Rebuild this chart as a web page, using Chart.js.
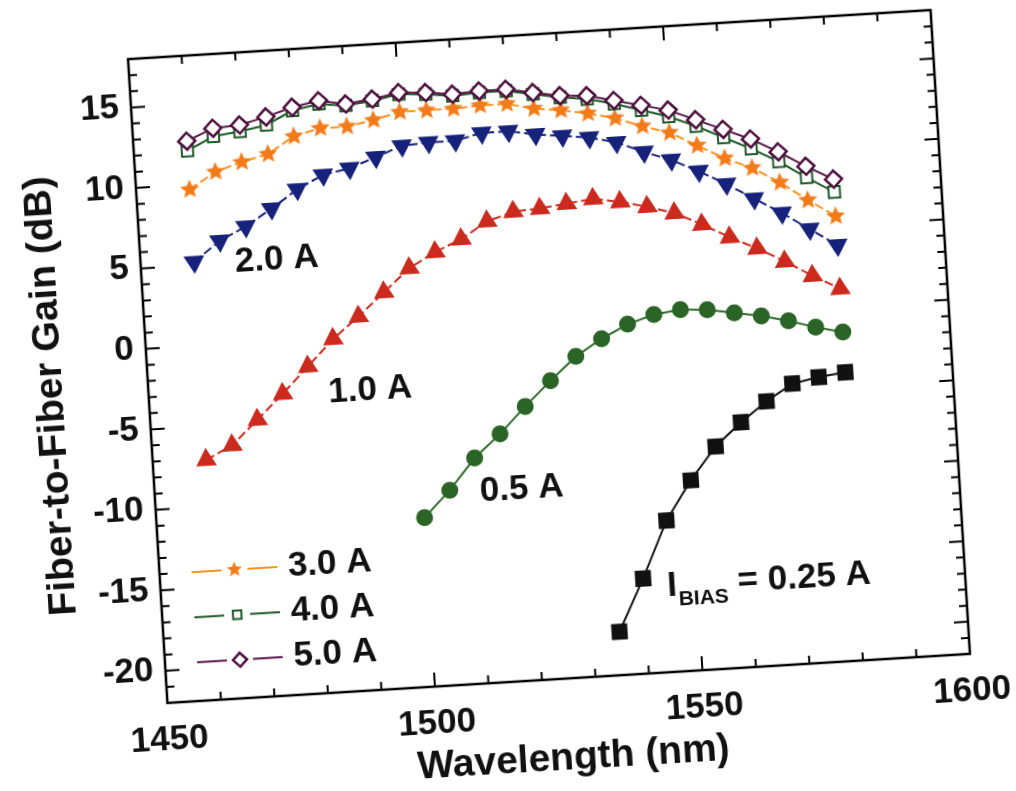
<!DOCTYPE html>
<html>
<head>
<meta charset="utf-8">
<script src="https://cdn.jsdelivr.net/npm/chart.js@4.4.1/dist/chart.umd.min.js"></script>
<style>
  html, body { margin: 0; padding: 0; background: #fff; overflow: hidden; }
  #wrap { position: relative; width: 1016px; height: 791px; }
  /* the scanned figure is tilted a little, so the canvas is too */
  #gain { position: absolute; left: 0; top: 0; transform-origin: 549px 356.5px; transform: rotate(-3.5deg); }
</style>
</head>
<body>
<div id="wrap"><canvas id="gain" width="1016" height="791"></canvas></div>
<script>
// wavelengths (nm)
const wlFull = [1460, 1465, 1470, 1475, 1480, 1485, 1490, 1495, 1500, 1505, 1510, 1515, 1520,
                1525, 1530, 1535, 1540, 1545, 1550, 1555, 1560, 1565, 1570, 1575, 1580];
const wlHalf = [1500, 1505, 1510, 1515, 1520, 1525, 1530, 1535, 1540, 1545, 1550, 1555, 1560,
                1565, 1570, 1575, 1580];
const wlQuarter = [1535, 1540, 1545, 1550, 1555, 1560, 1565, 1570, 1575, 1580];

// fiber-to-fiber gain (dB) for each bias current
const gain50 = [12.7, 13.4, 13.5, 13.9, 14.4, 14.7, 14.4, 14.6, 14.9, 14.8, 14.6, 14.7, 14.7,
                14.4, 14.1, 14.0, 13.6, 13.2, 12.8, 12.1, 11.4, 10.7, 9.8, 8.8, 7.9];
const gain40 = [12.1, 12.9, 13.1, 13.4, 14.2, 14.5, 14.3, 14.5, 14.8, 14.7, 14.5, 14.6, 14.6,
                14.3, 14.0, 13.8, 13.4, 12.9, 12.4, 11.7, 10.9, 10.1, 9.2, 8.1, 7.1];
const gain30 = [9.7, 10.7, 11.2, 11.6, 12.6, 13.0, 13.0, 13.3, 13.7, 13.7, 13.7, 13.8, 13.8,
                13.4, 13.2, 12.9, 12.5, 11.9, 11.4, 10.5, 9.6, 8.9, 7.9, 6.7, 5.6];
const gain20 = [5.2, 6.4, 7.2, 8.2, 9.3, 10.1, 10.4, 11.0, 11.6, 11.7, 11.7, 12.1, 12.1,
                11.8, 11.6, 11.4, 11.0, 10.3, 9.7, 8.9, 8.0, 7.0, 6.0, 4.9, 3.8];
const gain10 = [-7.1, -6.3, -4.8, -3.3, -1.7, -0.1, 1.2, 2.6, 4.0, 4.9, 5.6, 6.6, 7.1,
                7.2, 7.4, 7.6, 7.3, 6.9, 6.4, 5.6, 4.7, 3.9, 3.0, 2.0, 1.1];
const gain05 = [-11.5, -9.9, -8.0, -6.6, -5.0, -3.5, -2.1, -1.1, -0.3, 0.2, 0.4, 0.3, 0.0,
                -0.3, -0.7, -1.2, -1.6];
const gain025 = [-19.3, -16.1, -12.6, -10.2, -8.2, -6.8, -5.6, -4.6, -4.3, -4.1];

// axes
const xMin = 1450, xMax = 1600, xMinor = 10;
const yMin = -22, yMax = 18, yMinor = 1;
const xTickValues = [1450, 1500, 1550, 1600];
const yTickValues = [-20, -15, -10, -5, 0, 5, 10, 15];
const yTitle = 'Fiber-to-Fiber Gain (dB)';

// text labels placed in data units: [text, wavelength, gain]
const curveLabels = [['2.0 A', 1467.6, 5.0], ['1.0 A', 1483.5, -3.4], ['0.5 A', 1510.6, -10.1]];
const biasLabel = [1544.4, -16.7];
// small legend: dataset index, gain level
const legendRows = [[2, -14.0], [1, -16.8], [0, -19.6]];
const legendLine = [1456, 1472], legendMark = 1464, legendText = 1474;

const FONT = '"Liberation Sans", Arial, Helvetica, sans-serif';

function makeStar(r, color) {
  const s = Math.ceil(r * 2 + 2);
  const c = document.createElement('canvas');
  c.width = s; c.height = s;
  const g = c.getContext('2d');
  g.beginPath();
  for (let i = 0; i < 10; i++) {
    const a = -Math.PI / 2 + i * Math.PI / 5;
    const rr = i % 2 === 0 ? r : r * 0.45;
    g.lineTo(s / 2 + rr * Math.cos(a), s / 2 + rr * Math.sin(a));
  }
  g.closePath();
  g.fillStyle = color;
  g.fill();
  return c;
}
const star = makeStar(10, '#f37a18');

function pts(xs, ys) {
  return xs.map((x, i) => ({ x: x, y: ys[i] }));
}

const datasets = [
  { label: '5.0 A', data: pts(wlFull, gain50), borderColor: '#5a1848', borderWidth: 2,
    pointStyle: 'rectRot', pointRadius: 8.5, pointBorderWidth: 2.5,
    pointBackgroundColor: '#fff', pointBorderColor: '#4e103e' },
  { label: '4.0 A', data: pts(wlFull, gain40), borderColor: '#1e5a28', borderWidth: 2,
    pointStyle: 'rect', pointRadius: 8, pointBorderWidth: 2,
    pointBackgroundColor: '#fff', pointBorderColor: '#1e5a28' },
  { label: '3.0 A', data: pts(wlFull, gain30), borderColor: '#f7931e', borderWidth: 2,
    borderDash: [9, 4], pointStyle: star, pointRadius: 10 },
  { label: '2.0 A', data: pts(wlFull, gain20), borderColor: '#17227a', borderWidth: 2,
    borderDash: [9, 4], pointStyle: 'triangle', rotation: 180, pointRadius: 10,
    pointBackgroundColor: '#17227a', pointBorderColor: '#17227a' },
  { label: '1.0 A', data: pts(wlFull, gain10), borderColor: '#cc2a1e', borderWidth: 2,
    borderDash: [9, 4], pointStyle: 'triangle', pointRadius: 10,
    pointBackgroundColor: '#cc2a1e', pointBorderColor: '#cc2a1e' },
  { label: '0.5 A', data: pts(wlHalf, gain05), borderColor: '#2f6b2a', borderWidth: 2,
    pointStyle: 'circle', pointRadius: 7.5,
    pointBackgroundColor: '#2a6426', pointBorderColor: '#2a6426' },
  { label: '0.25 A', data: pts(wlQuarter, gain025), borderColor: '#111', borderWidth: 2,
    pointStyle: 'rect', pointRadius: 10,
    pointBackgroundColor: '#111', pointBorderColor: '#111' }
];

// inward ticks on all four sides, the frame and the y title
const frameTicks = {
  id: 'frameTicks',
  afterDraw(chart) {
    const { ctx, chartArea: a, scales: { x, y } } = chart;
    ctx.save();
    ctx.strokeStyle = '#000';
    ctx.lineWidth = 2;
    ctx.beginPath();
    for (let v = xMin; v <= xMax; v += xMinor) {
      const px = x.getPixelForValue(v);
      const len = xTickValues.includes(v) ? 14 : 8;
      ctx.moveTo(px, a.bottom); ctx.lineTo(px, a.bottom - len);
      ctx.moveTo(px, a.top); ctx.lineTo(px, a.top + len);
    }
    for (let v = yMin; v <= yMax; v += yMinor) {
      const py = y.getPixelForValue(v);
      const len = yTickValues.includes(v) ? 14 : 8;
      ctx.moveTo(a.left, py); ctx.lineTo(a.left + len, py);
      ctx.moveTo(a.right, py); ctx.lineTo(a.right - len, py);
    }
    ctx.stroke();
    ctx.lineWidth = 2.5;
    ctx.strokeRect(a.left, a.top, a.right - a.left, a.bottom - a.top);

    // y title, sized to run about two thirds of the axis
    ctx.font = 'bold 100px ' + FONT;
    const size = Math.round(100 * 435 / ctx.measureText(yTitle).width);
    ctx.font = 'bold ' + size + 'px ' + FONT;
    ctx.translate(a.left - 97, (a.top + a.bottom) / 2 + 9);
    ctx.rotate(-Math.PI / 2);
    ctx.fillStyle = '#111';
    ctx.textAlign = 'center';
    ctx.textBaseline = 'middle';
    ctx.fillText(yTitle, 0, 0);
    ctx.restore();
  }
};

// curve labels, I_BIAS label and the little legend
const notes = {
  id: 'notes',
  afterDatasetsDraw(chart) {
    const { ctx, scales: { x, y } } = chart;
    const big = 'bold 35px ' + FONT;
    ctx.save();
    ctx.fillStyle = '#111';
    ctx.textAlign = 'left';
    ctx.textBaseline = 'middle';
    ctx.font = big;
    curveLabels.forEach(l => ctx.fillText(l[0], x.getPixelForValue(l[1]), y.getPixelForValue(l[2])));

    let px = x.getPixelForValue(biasLabel[0]);
    const py = y.getPixelForValue(biasLabel[1]);
    ctx.fillText('I', px, py);
    px += ctx.measureText('I').width + 1;
    ctx.font = 'bold 21px ' + FONT;
    ctx.fillText('BIAS', px, py + 14);
    px += ctx.measureText('BIAS').width;
    ctx.font = big;
    ctx.fillText(' = 0.25 A', px, py);

    legendRows.forEach(r => {
      const ds = chart.data.datasets[r[0]];
      const ly = y.getPixelForValue(r[1]);
      const x0 = x.getPixelForValue(legendLine[0]);
      const x1 = x.getPixelForValue(legendLine[1]);
      const xm = x.getPixelForValue(legendMark);
      ctx.strokeStyle = ds.borderColor;
      ctx.lineWidth = 2;
      ctx.setLineDash([]);
      ctx.beginPath();
      ctx.moveTo(x0, ly); ctx.lineTo(xm - 13, ly);
      ctx.moveTo(xm + 13, ly); ctx.lineTo(x1, ly);
      ctx.stroke();
      const small = ds.pointStyle === star ? makeStar(8, '#f37a18') : ds.pointStyle;
      ctx.fillStyle = ds.pointBackgroundColor || '#fff';
      ctx.strokeStyle = ds.pointBorderColor || ds.borderColor;
      ctx.lineWidth = ds.pointBorderWidth || 1;
      Chart.helpers.drawPoint(ctx, { pointStyle: small, radius: ds.pointStyle === 'rect' ? 6 : 7,
        rotation: 0, borderWidth: ds.pointBorderWidth || 1 }, xm, ly);
      ctx.fillStyle = '#111';
      ctx.font = big;
      ctx.fillText(ds.label, x.getPixelForValue(legendText), ly);
    });
    ctx.restore();
  }
};

const tickFont = { family: FONT, size: 35, weight: 'bold' };

new Chart(document.getElementById('gain'), {
  type: 'line',
  data: { datasets: datasets },
  options: {
    responsive: false,
    animation: false,
    layout: { padding: { top: 34, right: 65, bottom: 0, left: 0 } },
    plugins: { legend: { display: false }, tooltip: { enabled: false } },
    scales: {
      x: {
        type: 'linear', min: xMin, max: xMax,
        grid: { display: false, drawTicks: false, tickLength: 0 },
        border: { display: false },
        afterBuildTicks: s => { s.ticks = xTickValues.map(v => ({ value: v })); },
        ticks: { padding: 16, color: '#111', font: tickFont, maxRotation: 0,
                 callback: v => String(v) },
        title: { display: true, text: 'Wavelength (nm)', color: '#111',
                 font: { family: FONT, size: 39, weight: 'bold' },
                 padding: { top: 0, bottom: 8 } },
        afterFit: s => { s.height = 112; }
      },
      y: {
        min: yMin, max: yMax,
        grid: { display: false, drawTicks: false, tickLength: 0 },
        border: { display: false },
        afterBuildTicks: s => { s.ticks = yTickValues.map(v => ({ value: v })); },
        ticks: { padding: 12, color: '#111', font: tickFont, callback: v => String(v) },
        title: { display: false },
        afterFit: s => { s.width = 147; }
      }
    }
  },
  plugins: [frameTicks, notes]
});
</script>
</body>
</html>
